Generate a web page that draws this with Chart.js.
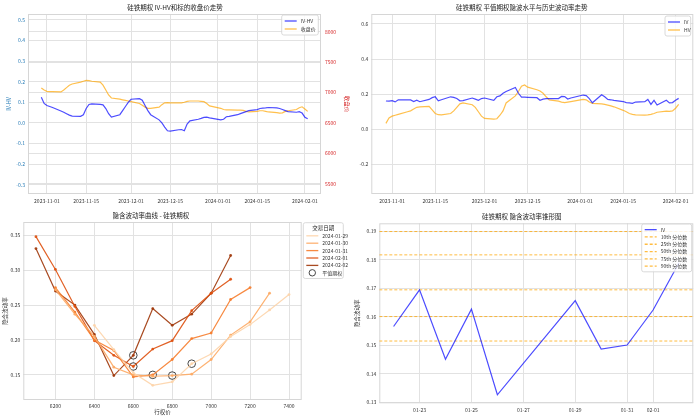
<!DOCTYPE html>
<html>
<head>
<meta charset="utf-8">
<script src="https://cdn.jsdelivr.net/npm/chart.js@4.4.1/dist/chart.umd.min.js"></script>
<style>
html, body { margin: 0; padding: 0; background: #fff; }
#wrap { position: relative; width: 700px; height: 419px; }
canvas { position: absolute; }
</style>
</head>
<body>
<div id="wrap">
  <canvas id="c1" width="350" height="210" style="left:0;top:0"></canvas>
  <canvas id="c2" width="350" height="210" style="left:350px;top:0"></canvas>
  <canvas id="c3" width="350" height="209" style="left:0;top:210px"></canvas>
  <canvas id="c4" width="350" height="209" style="left:350px;top:210px"></canvas>
</div>
<script>
// 交易日
const tradeDates = [
  '2023-10-30','2023-10-31',
  '2023-11-01','2023-11-02','2023-11-03',
  '2023-11-06','2023-11-07','2023-11-08','2023-11-09','2023-11-10',
  '2023-11-13','2023-11-14','2023-11-15','2023-11-16','2023-11-17',
  '2023-11-20','2023-11-21','2023-11-22','2023-11-23','2023-11-24',
  '2023-11-27','2023-11-28','2023-11-29','2023-11-30',
  '2023-12-01',
  '2023-12-04','2023-12-05','2023-12-06','2023-12-07','2023-12-08',
  '2023-12-11','2023-12-12','2023-12-13','2023-12-14','2023-12-15',
  '2023-12-18','2023-12-19','2023-12-20','2023-12-21','2023-12-22',
  '2023-12-25','2023-12-26','2023-12-27','2023-12-28','2023-12-29',
  '2024-01-02','2024-01-03','2024-01-04','2024-01-05',
  '2024-01-08','2024-01-09','2024-01-10','2024-01-11','2024-01-12',
  '2024-01-15','2024-01-16','2024-01-17','2024-01-18','2024-01-19',
  '2024-01-22','2024-01-23','2024-01-24','2024-01-25','2024-01-26',
  '2024-01-29','2024-01-30','2024-01-31',
  '2024-02-01','2024-02-02'
];
const ivHvSpread = [
  0.125, 0.095,
  0.085, 0.080, 0.075,
  0.058, 0.052, 0.045, 0.038, 0.033,
  0.032, 0.040, 0.070, 0.090, 0.093,
  0.090, 0.088, 0.070, 0.045, 0.028,
  0.040, 0.060, 0.080, 0.100,
  0.115,
  0.118, 0.110, 0.085, 0.060, 0.040,
  0.015, 0.000, -0.020, -0.038, -0.040,
  -0.033, -0.032, -0.038, -0.005, 0.010,
  0.018, 0.022, 0.027, 0.028, 0.025,
  0.015, 0.018, 0.030, 0.032,
  0.040, 0.045, 0.050, 0.055, 0.060,
  0.065, 0.070, 0.072, 0.073, 0.075,
  0.073, 0.070, 0.065, 0.060, 0.055,
  0.052, 0.055, 0.048,
  0.028, 0.020
];
const closePrice = [
  7075, 7040,
  7020, 7015, 7015,
  7010, 7040, 7080, 7120, 7140,
  7170, 7185, 7200, 7195, 7185,
  7170, 7120, 7040, 6960, 6910,
  6890, 6880, 6870, 6860,
  6850,
  6820, 6790, 6760, 6740, 6740,
  6760, 6800, 6830, 6835, 6830,
  6830, 6830, 6840, 6855, 6860,
  6860, 6855, 6850, 6820, 6780,
  6740, 6720, 6715, 6715,
  6710, 6710, 6705, 6690, 6680,
  6690, 6700, 6700, 6690, 6680,
  6670, 6660, 6665, 6690, 6700,
  6720, 6750, 6765,
  6730, 6690
];
const atmIv = [
  0.161, 0.160,
  0.163, 0.156, 0.168,
  0.168, 0.167, 0.158, 0.166, 0.157,
  0.170, 0.180, 0.185, 0.162, 0.168,
  0.185, 0.182, 0.175, 0.162, 0.163,
  0.178, 0.172, 0.165, 0.175,
  0.178,
  0.165, 0.185, 0.190, 0.205, 0.215,
  0.238, 0.205, 0.183, 0.183, 0.182,
  0.180, 0.165, 0.172, 0.175, 0.175,
  0.175, 0.187, 0.186, 0.172, 0.178,
  0.195, 0.192, 0.175, 0.151,
  0.197, 0.185, 0.170, 0.168, 0.165,
  0.158, 0.152, 0.150, 0.148, 0.155,
  0.157, 0.170, 0.142, 0.165, 0.138,
  0.165, 0.150, 0.152,
  0.165, 0.176
];
const histVol = [
  0.034, 0.065,
  0.075, 0.080, 0.085,
  0.100, 0.105, 0.115, 0.125, 0.128,
  0.130, 0.110, 0.090, 0.083, 0.082,
  0.090, 0.105, 0.125, 0.145, 0.150,
  0.140, 0.125, 0.100, 0.075,
  0.062,
  0.058, 0.060, 0.080, 0.105, 0.150,
  0.190, 0.215, 0.245, 0.252, 0.240,
  0.225, 0.218, 0.205, 0.185, 0.167,
  0.160, 0.155, 0.152, 0.155, 0.158,
  0.170, 0.168, 0.155, 0.148,
  0.145, 0.142, 0.138, 0.133, 0.128,
  0.108, 0.100, 0.090, 0.085, 0.082,
  0.081, 0.082, 0.085, 0.090, 0.097,
  0.103, 0.102, 0.105,
  0.120, 0.142
];
const dateTicks = ['2023-11-01','2023-11-15','2023-12-01','2023-12-15','2024-01-01','2024-01-15','2024-02-01'];
const spreadTicks = [-0.3, -0.2, -0.1, 0.0, 0.1, 0.2, 0.3, 0.4, 0.5];
const priceTicks = [5500, 6000, 6500, 7000, 7500, 8000];
const volTicks = [-0.2, 0.0, 0.2, 0.4, 0.6];

// 隐含波动率曲线
const smileDates = ['2024-01-29','2024-01-30','2024-01-31','2024-02-01','2024-02-02'];
const smileStrikes = [
  [6400, 6500, 6600, 6700, 6800, 6900, 7000, 7100, 7200, 7300, 7400],
  [6200, 6300, 6400, 6500, 6600, 6700, 6800, 6900, 7000, 7100, 7200, 7300],
  [6200, 6300, 6400, 6500, 6600, 6700, 6800, 6900, 7000, 7100, 7200],
  [6100, 6200, 6300, 6400, 6500, 6600, 6700, 6800, 6900, 7000, 7100],
  [6100, 6200, 6300, 6400, 6500, 6600, 6700, 6800, 6900, 7000, 7100]
];
const smileIv = [
  [0.221, 0.186, 0.153, 0.135, 0.140, 0.166, 0.180, 0.205, 0.222, 0.243, 0.265],
  [0.272, 0.237, 0.205, 0.161, 0.150, 0.148, 0.149, 0.151, 0.172, 0.207, 0.226, 0.267],
  [0.275, 0.240, 0.200, 0.185, 0.147, 0.150, 0.172, 0.202, 0.210, 0.258, 0.275],
  [0.348, 0.301, 0.248, 0.199, 0.178, 0.162, 0.187, 0.199, 0.242, 0.267, 0.287],
  [0.331, 0.270, 0.250, 0.208, 0.149, 0.178, 0.245, 0.221, 0.237, 0.267, 0.321]
];
const atmStrike = [6900, 6800, 6700, 6600, 6600];
const atmPointIv = [0.166, 0.149, 0.150, 0.162, 0.178];
const strikeTicks = [6200, 6400, 6600, 6800, 7000, 7200, 7400];
const smileTicks = [0.15, 0.20, 0.25, 0.30, 0.35];

// 隐含波动率锥形图
const coneDates = ['2024-01-22','2024-01-23','2024-01-24','2024-01-25','2024-01-26','2024-01-29','2024-01-30','2024-01-31','2024-02-01','2024-02-02'];
const coneIv = [0.1566, 0.1695, 0.1451, 0.1627, 0.1326, 0.1657, 0.1487, 0.1501, 0.1624, 0.1790];
const pctLabels = ['10th', '25th', '50th', '75th', '90th'];
const pctValues = [0.1515, 0.1601, 0.1695, 0.1818, 0.1900];
const coneTicks = ['2024-01-23','2024-01-25','2024-01-27','2024-01-29','2024-01-31','2024-02-01'];
const coneYTicks = [0.13, 0.14, 0.15, 0.16, 0.17, 0.18, 0.19];

const FONT = '"Noto Sans CJK SC", "DejaVu Sans", sans-serif';
const GRID = '#e2e2e2';
const BLUE = 'rgba(0,0,255,0.7)';
const ORANGE = 'rgba(255,165,0,0.7)';
const smileColors = ['rgba(253,212,170,0.9)', 'rgba(253,170,100,0.9)', 'rgba(246,125,45,0.9)', 'rgba(222,80,14,0.9)', 'rgba(160,55,10,0.9)'];

Chart.defaults.font.family = FONT;
Chart.defaults.font.size = 5;
Chart.defaults.color = '#333';
Chart.defaults.animation = false;

const dayNum = s => Date.UTC(+s.slice(0, 4), +s.slice(5, 7) - 1, +s.slice(8, 10)) / 864e5;

var frame = {
  id: 'frame',
  beforeDatasetsDraw: function (chart) {
    const a = chart.chartArea, ctx = chart.ctx;
    ctx.save();
    ctx.strokeStyle = '#d6d6d6';
    ctx.lineWidth = 1;
    ctx.strokeRect(a.left + 0.5, a.top + 0.5, a.width - 1, a.height - 1);
    ctx.restore();
  }
};
Chart.register(frame);

// 图例框
var boxLegend = function (cfg) {
  return {
    id: 'boxLegend',
    afterDraw: function (chart) {
      const ctx = chart.ctx, a = chart.chartArea;
      const x = cfg.outside ? a.right + cfg.dx : a.right - cfg.w - cfg.dx;
      const y = a.top + cfg.dy;
      const rows = cfg.items.length + (cfg.title ? 1 : 0);
      const h = rows * cfg.row + 4;
      ctx.save();
      ctx.beginPath();
      ctx.roundRect(x, y, cfg.w, h, 2);
      ctx.fillStyle = 'rgba(255,255,255,0.85)';
      ctx.fill();
      ctx.strokeStyle = '#d0d0d0';
      ctx.lineWidth = 0.8;
      ctx.stroke();
      ctx.textBaseline = 'middle';
      let cy = y + 2 + cfg.row / 2;
      if (cfg.title) {
        ctx.font = '5.5px ' + FONT;
        ctx.fillStyle = '#222';
        ctx.textAlign = 'center';
        ctx.fillText(cfg.title, x + cfg.w / 2, cy);
        cy += cfg.row;
      }
      ctx.font = '5px ' + FONT;
      ctx.textAlign = 'left';
      cfg.items.forEach(function (it) {
        const sx = x + 3;
        ctx.strokeStyle = it.color;
        ctx.lineWidth = it.circle ? 0.9 : 1.3;
        ctx.setLineDash(it.dash || []);
        ctx.beginPath();
        if (it.circle) {
          ctx.arc(sx + 6, cy, 3.2, 0, Math.PI * 2);
        } else {
          ctx.moveTo(sx, cy);
          ctx.lineTo(sx + 12, cy);
        }
        ctx.stroke();
        ctx.setLineDash([]);
        ctx.fillStyle = '#333';
        ctx.fillText(it.text, sx + 16, cy);
        cy += cfg.row;
      });
      ctx.restore();
    }
  };
};

var setTicks = function (vals) {
  return function (s) { s.ticks = vals.map(function (v) { return { value: v }; }); };
};
var dateLabel = function (list, fmt) {
  const nums = list.map(dayNum);
  return function (v) {
    const i = nums.indexOf(v);
    return i < 0 ? '' : fmt(list[i]);
  };
};
var pad = function (arr, f) {
  const lo = Math.min.apply(null, arr), hi = Math.max.apply(null, arr);
  return [lo - (hi - lo) * f, hi + (hi - lo) * f];
};
var titleOpts = function (text, top, bottom) {
  return { display: true, text: text, color: '#222', font: { size: 6.5, weight: 'normal' }, padding: { top: top, bottom: bottom } };
};

// ---------- 1: IV-HV 与收盘价 ----------
const tradeX = tradeDates.map(dayNum);
const tradeRange = pad(tradeX, 0.05);

new Chart(document.getElementById('c1'), {
  type: 'line',
  data: {
    datasets: [
      {
        label: 'IV-HV',
        data: tradeX.map(function (x, i) { return { x: x, y: ivHvSpread[i] }; }),
        borderColor: BLUE,
        borderWidth: 1.2,
        pointRadius: 0,
        yAxisID: 'y',
      },
      {
        label: '收盘价',
        data: tradeX.map(function (x, i) { return { x: x, y: closePrice[i] }; }),
        borderColor: ORANGE,
        borderWidth: 1.2,
        pointRadius: 0,
        yAxisID: 'y1',
      },
    ],
  },
  options: {
    responsive: false,
    layout: { padding: 0 },
    plugins: {
      legend: { display: false },
      tooltip: { enabled: false },
      title: titleOpts('硅铁期权 IV-HV和标的收盘价走势', 4, 2.2),
    },
    scales: {
      x: {
        type: 'linear', min: tradeRange[0], max: tradeRange[1],
        afterBuildTicks: setTicks(dateTicks.map(dayNum)),
        afterFit: function (s) { s.height = 16; },
        ticks: { callback: dateLabel(dateTicks, function (d) { return d; }), maxRotation: 0, autoSkip: false, padding: 4 },
        grid: { color: GRID, drawTicks: false },
        border: { display: false },
      },
      y: {
        position: 'left', min: -0.345, max: 0.529,
        afterBuildTicks: setTicks(spreadTicks),
        afterFit: function (s) { s.width = 28; },
        ticks: { color: '#1f77b4', callback: function (v) { return v.toFixed(1); }, padding: 3 },
        grid: { color: GRID, drawTicks: false },
        border: { display: false },
        title: { display: true, text: 'IV-HV', color: '#1f77b4', font: { size: 5.5 }, padding: { top: 6, bottom: 0 } },
      },
      y1: {
        position: 'right', min: 5331, max: 8291,
        afterBuildTicks: setTicks(priceTicks),
        afterFit: function (s) { s.width = 29; },
        ticks: { color: '#d62728', padding: 4, callback: function (v) { return String(v); } },
        grid: { color: GRID, drawTicks: false },
        border: { display: false },
        title: { display: true, text: '收盘价', color: '#d62728', font: { size: 5.5 }, padding: { top: 0, bottom: 6 } },
      },
    },
  },
  plugins: [boxLegend({ w: 36.6, dx: 2.7, dy: 1, row: 8, items: [
    { text: 'IV-HV', color: BLUE },
    { text: '收盘价', color: ORANGE },
  ] })],
});

// ---------- 2: 平值隐波与历史波动率 ----------
new Chart(document.getElementById('c2'), {
  type: 'line',
  data: {
    datasets: [
      {
        label: 'IV',
        data: tradeX.map(function (x, i) { return { x: x, y: atmIv[i] }; }),
        borderColor: BLUE,
        borderWidth: 1.2,
        pointRadius: 0,
      },
      {
        label: 'HV',
        data: tradeX.map(function (x, i) { return { x: x, y: histVol[i] }; }),
        borderColor: ORANGE,
        borderWidth: 1.2,
        pointRadius: 0,
      },
    ],
  },
  options: {
    responsive: false,
    layout: { padding: { right: 6.7 } },
    plugins: {
      legend: { display: false },
      tooltip: { enabled: false },
      title: titleOpts('硅铁期权 平值期权隐波水平与历史波动率走势', 4, 2.2),
    },
    scales: {
      x: {
        type: 'linear', min: tradeRange[0], max: tradeRange[1],
        afterBuildTicks: setTicks(dateTicks.map(dayNum)),
        afterFit: function (s) { s.height = 16; },
        ticks: { callback: dateLabel(dateTicks, function (d) { return d; }), maxRotation: 0, autoSkip: false, padding: 4 },
        grid: { color: GRID, drawTicks: false },
        border: { display: false },
      },
      y: {
        min: -0.368, max: 0.656,
        afterBuildTicks: setTicks(volTicks),
        afterFit: function (s) { s.width = 21.3; },
        ticks: { callback: function (v) { return v.toFixed(1); }, padding: 3 },
        grid: { color: GRID, drawTicks: false },
        border: { display: false },
      },
    },
  },
  plugins: [boxLegend({ w: 25.7, dx: 2.6, dy: 2, row: 8, items: [
    { text: 'IV', color: BLUE },
    { text: 'HV', color: ORANGE },
  ] })],
});

// ---------- 3: 隐含波动率曲线 ----------
const smileSets = smileDates.map(function (d, k) {
  return {
    label: d,
    data: smileStrikes[k].map(function (s, i) { return { x: s, y: smileIv[k][i] }; }),
    borderColor: smileColors[k],
    backgroundColor: smileColors[k],
    borderWidth: 1.2,
    pointRadius: 1.4,
    pointBorderWidth: 0,
  };
});
smileSets.push({
  label: '平值期权',
  data: atmStrike.map(function (s, i) { return { x: s, y: atmPointIv[i] }; }),
  showLine: false,
  pointRadius: 3.8,
  pointBorderWidth: 0.9,
  pointBorderColor: '#333',
  pointBackgroundColor: 'rgba(0,0,0,0)',
});
const strikeRange = pad([].concat.apply([], smileStrikes), 0.05);

new Chart(document.getElementById('c3'), {
  type: 'line',
  data: { datasets: smileSets },
  options: {
    responsive: false,
    layout: { padding: { right: 48.3 } },
    plugins: {
      legend: { display: false },
      tooltip: { enabled: false },
      title: titleOpts('隐含波动率曲线 - 硅铁期权', 2, 2.2),
    },
    scales: {
      x: {
        type: 'linear', min: strikeRange[0], max: strikeRange[1],
        afterBuildTicks: setTicks(strikeTicks),
        afterFit: function (s) { s.height = 19; },
        ticks: { maxRotation: 0, autoSkip: false, padding: 3, callback: function (v) { return String(v); } },
        grid: { color: GRID, drawTicks: false },
        border: { display: false },
        title: { display: true, text: '行权价', font: { size: 5.5 }, padding: { top: 0, bottom: 4 } },
      },
      y: {
        min: 0.114, max: 0.369,
        afterBuildTicks: setTicks(smileTicks),
        afterFit: function (s) { s.width = 23.3; },
        ticks: { callback: function (v) { return v.toFixed(2); }, padding: 3 },
        grid: { color: GRID, drawTicks: false },
        border: { display: false },
        title: { display: true, text: '隐含波动率', font: { size: 5.5 }, padding: { top: 1.5, bottom: 0 } },
      },
    },
  },
  plugins: [boxLegend({ outside: true, w: 40, dx: 1.6, dy: 0.7, row: 7.4, title: '交易日期',
    items: smileDates.map(function (d, k) { return { text: d, color: smileColors[k] }; })
      .concat([{ text: '平值期权', color: '#333', circle: true }]) })],
});

// ---------- 4: 隐含波动率锥形图 ----------
const coneX = coneDates.map(dayNum);
const coneRange = pad(coneX, 0.05);
const pctColors = ['rgba(255,165,0,0.75)', 'rgba(255,165,0,0.75)', 'rgba(255,165,0,0.75)', 'rgba(255,165,0,0.75)', 'rgba(255,165,0,0.75)'];
const coneSets = [{
  label: 'IV',
  data: coneX.map(function (x, i) { return { x: x, y: coneIv[i] }; }),
  borderColor: BLUE,
  borderWidth: 1.2,
  pointRadius: 0,
}];
pctLabels.forEach(function (p, i) {
  coneSets.push({
    label: p + ' 分位数',
    data: [{ x: coneRange[0], y: pctValues[i] }, { x: coneRange[1], y: pctValues[i] }],
    borderColor: pctColors[i],
    borderWidth: 1,
    borderDash: [3, 2],
    pointRadius: 0,
  });
});

new Chart(document.getElementById('c4'), {
  type: 'line',
  data: { datasets: coneSets },
  options: {
    responsive: false,
    layout: { padding: { right: 6.7 } },
    plugins: {
      legend: { display: false },
      tooltip: { enabled: false },
      title: titleOpts('硅铁期权 隐含波动率锥形图', 2.5, 3),
    },
    scales: {
      x: {
        type: 'linear', min: coneRange[0], max: coneRange[1],
        afterBuildTicks: setTicks(coneTicks.map(dayNum)),
        afterFit: function (s) { s.height = 15.7; },
        ticks: { callback: dateLabel(coneTicks, function (d) { return d.slice(5); }), maxRotation: 0, autoSkip: false, padding: 4 },
        grid: { color: GRID, drawTicks: false },
        border: { display: false },
      },
      y: {
        min: 0.1296, max: 0.1929,
        afterBuildTicks: setTicks(coneYTicks),
        afterFit: function (s) { s.width = 29.3; },
        ticks: { callback: function (v) { return v.toFixed(2); }, padding: 3 },
        grid: { color: GRID, drawTicks: false },
        border: { display: false },
        title: { display: true, text: '隐含波动率', font: { size: 5.5 }, padding: { top: 3.5, bottom: 0 } },
      },
    },
  },
  plugins: [boxLegend({ w: 50, dx: 1.6, dy: 0.7, row: 7.3,
    items: coneSets.map(function (d) { return { text: d.label, color: d.borderColor, dash: d.borderDash }; }) })],
});
</script>
</body>
</html>
